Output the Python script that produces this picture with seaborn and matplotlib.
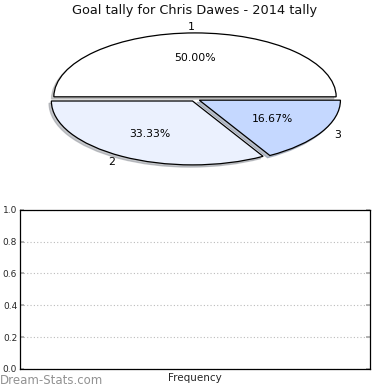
import matplotlib
matplotlib.use("Agg")
import matplotlib.pyplot as plt
import seaborn as sns
import pandas as pd

# Data
categories = ["1", "2", "3"]
goals = [3, 2, 1]
slice_colors = ["#ffffff", "#ebf1fe", "#c5d8ff"]
title = "Goal tally for Chris Dawes - 2014 tally"
y_ticks = [0.0, 0.2, 0.4, 0.6, 0.8, 1.0]

sns.set_theme(style="white")
plt.rcParams["font.family"] = ["DejaVu Sans"]

fig = plt.figure(figsize=(3.9, 3.9), dpi=100)
fig.patch.set_facecolor("white")

# Pie
ax1 = fig.add_axes([0.0295, 0.533, 0.941, 0.426])
wedges, texts, autotexts = ax1.pie(
    goals, labels=categories, colors=slice_colors, autopct="%.2f%%",
    explode=[0.035, 0.035, 0.035],
    shadow={"ox": -0.012, "oy": -0.025, "shade": 0.4},
    startangle=0, counterclock=True,
    labeldistance=1.1, pctdistance=0.6,
    wedgeprops=dict(edgecolor="black", linewidth=0.9),
    textprops=dict(fontsize=7.8, color="black"))
ax1.set_aspect("auto")
ax1.set_xlim(-1.3, 1.3)
ax1.set_ylim(-1.3, 1.3)
ax1.axis("off")
fig.text(0.5, 0.974, title, ha="center", va="center", fontsize=9.3, color="#111111")

# Empty frequency axes
ax2 = fig.add_axes([0.0513, 0.054, 0.897, 0.408])
df = pd.DataFrame({"label": pd.Series([], dtype=str), "value": pd.Series([], dtype=float)})
try:
    sns.barplot(data=df, x="label", y="value", ax=ax2)
except Exception:
    pass
ax2.set_ylim(0, 1.0)
ax2.set_xlim(0, 1)
ax2.set_yticks(y_ticks)
ax2.set_yticklabels([f"{v:.1f}" for v in y_ticks], fontsize=6.5)
ax2.set_xticks([])
ax2.set_ylabel("")
ax2.set_xlabel("Frequency", fontsize=7.5, labelpad=3)
for s in ax2.spines.values():
    s.set_color("black")
    s.set_linewidth(0.9)
ax2.yaxis.grid(True, linestyle=(0, (1, 2)), color="#bbbbbb", linewidth=0.8)
ax2.tick_params(axis="y", which="both", direction="in", length=3, color="#aaaaaa",
                left=True, right=True, pad=2)
ax2.set_facecolor("white")

fig.text(0.0, 0.025, "Dream-Stats.com", fontsize=8.5, color="#929292",
         ha="left", va="center")

fig.savefig("out.png", dpi=100, facecolor="white")
